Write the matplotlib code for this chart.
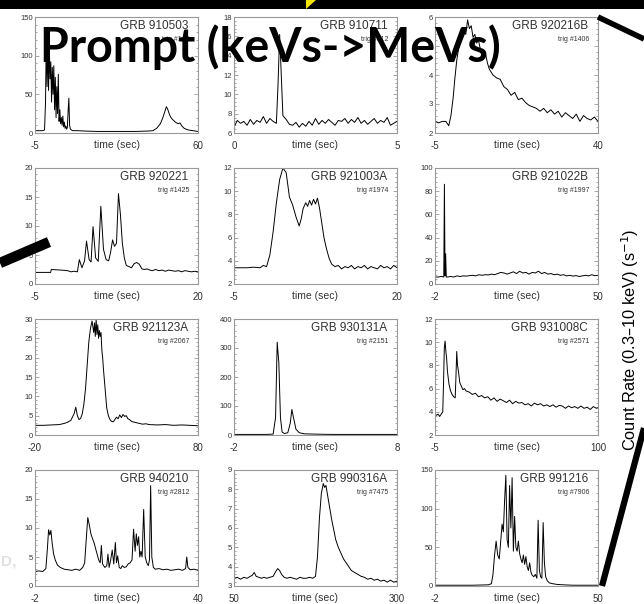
import matplotlib.pyplot as plt
from matplotlib.lines import Line2D
from matplotlib.patches import Rectangle, Polygon
from matplotlib.ticker import AutoMinorLocator

# ---- data ----
names = ["GRB 910503", "GRB 910711", "GRB 920216B",
         "GRB 920221", "GRB 921003A", "GRB 921022B",
         "GRB 921123A", "GRB 930131A", "GRB 931008C",
         "GRB 940210", "GRB 990316A", "GRB 991216"]
trigs = ["143", "512", "1406", "1425", "1974", "1997",
         "2067", "2151", "2571", "2812", "7475", "7906"]
xlims = [(-5, 60), (0, 5), (-5, 40), (-5, 20), (-5, 20), (-2, 50),
         (-20, 80), (-2, 8), (-5, 100), (-2, 40), (50, 300), (-2, 50)]
yticks = [[0, 50, 100, 150], [6, 8, 10, 12, 14, 16, 18], [2, 3, 4, 5, 6],
          [0, 5, 10, 15, 20], [2, 4, 6, 8, 10, 12], [0, 20, 40, 60, 80, 100],
          [0, 5, 10, 15, 20, 25, 30], [0, 100, 200, 300, 400], [2, 4, 6, 8, 10, 12],
          [0, 5, 10, 15, 20], [3, 4, 5, 6, 7, 8, 9], [0, 50, 100, 150]]

t1 = [-5, -2, -1.2, -0.8, -0.5, -0.2, 0.1, 0.4, 0.7, 1.0,
      1.3, 1.6, 1.9, 2.2, 2.5, 2.8, 3.1, 3.4, 3.7, 4.0,
      4.3, 4.6, 4.9, 5.2, 5.5, 5.8, 6.1, 6.4, 6.7, 7.0,
      7.3, 7.6, 7.9, 8.2, 8.5, 8.8, 9.1, 9.5, 10, 12,
      15, 20, 25, 30, 35, 40, 42, 43.5, 45, 46,
      46.8, 47.4, 48, 48.6, 49.2, 50, 51, 52, 52.8, 53.6,
      54.5, 56, 58, 60]
v1 = [3, 3, 4, 40, 126, 60, 118, 55, 112, 70,
      92, 40, 85, 50, 87, 30, 72, 20, 60, 25,
      76, 15, 30, 12, 20, 10, 22, 8, 14, 6,
      9, 5, 7, 28, 45, 10, 5, 4, 3, 3,
      2.5, 2, 2, 2, 2, 2.5, 3, 6, 12, 20,
      28, 34, 30, 24, 20, 17, 14, 12, 13, 9,
      6, 4, 3, 2]

t2 = [0.0, 0.1, 0.2, 0.3, 0.4, 0.5, 0.6, 0.7, 0.8, 0.9,
      1.0, 1.1, 1.2, 1.3, 1.35, 1.4, 1.45, 1.5, 1.6, 1.7,
      1.8, 1.9, 2.0, 2.1, 2.2, 2.3, 2.4, 2.5, 2.6, 2.7,
      2.8, 2.9, 3.0, 3.1, 3.2, 3.3, 3.4, 3.5, 3.6, 3.7,
      3.8, 3.9, 4.0, 4.1, 4.2, 4.3, 4.4, 4.5, 4.6, 4.7,
      4.8, 4.9, 5.0]
v2 = [6.6, 7.3, 7.0, 7.2, 6.8, 7.4, 6.9, 7.3, 7.1, 7.7,
      7.0, 7.5, 7.2, 7.0, 11.0, 16.2, 12.0, 7.8, 7.4, 6.9,
      6.8, 7.1, 6.6, 7.0, 6.7, 7.2, 6.8, 7.5, 6.9, 7.3,
      7.0, 7.4, 7.1, 6.8, 7.3, 7.2, 7.5, 7.0, 7.4, 7.1,
      7.6, 7.0, 7.3, 6.9, 7.2, 7.5, 7.0, 7.3, 7.1, 7.6,
      6.8, 7.0, 7.2]

t3 = [-5, -4, -3, -2, -1.2, -0.6, 0, 0.5, 1, 1.5,
      2, 2.5, 3, 3.5, 4, 4.5, 5, 5.5, 6, 6.5,
      7, 7.5, 8, 8.5, 9, 9.5, 10, 11, 12, 13,
      14, 15, 16, 17, 18, 19, 20, 21, 22, 23,
      24, 25, 26, 27, 28, 29, 30, 31, 32, 33,
      34, 35, 36, 37, 38, 39, 40]
v3 = [2.4, 2.35, 2.4, 2.4, 2.25, 2.6, 3.2, 3.9, 4.5, 4.9,
      5.1, 5.3, 5.5, 5.4, 5.9, 5.6, 5.7, 5.3, 5.4, 5.1,
      5.2, 4.9, 4.8, 4.6, 4.7, 4.4, 4.2, 4.0, 3.9, 3.85,
      3.6, 3.5, 3.3, 3.4, 3.15, 3.2, 3.05, 2.95, 2.9, 2.85,
      2.75, 2.85, 2.7, 2.8, 2.65, 2.75, 2.55, 2.7, 2.6, 2.5,
      2.65, 2.4, 2.6, 2.5, 2.45, 2.55, 2.4]

t4 = [-5, -2.6, -2.5, -1, 0, 0.5, 1, 1.5, 1.8, 2.2,
      2.6, 2.9, 3.3, 3.6, 3.9, 4.3, 4.7, 5.1, 5.5, 5.9,
      6.3, 6.6, 6.9, 7.2, 7.5, 7.8, 8.1, 8.4, 8.7, 9.0,
      9.4, 9.8, 10.2, 10.6, 11.0, 11.4, 11.8, 12.2, 12.6, 13,
      13.5, 14, 14.5, 15, 15.5, 16, 16.5, 17, 17.5, 18,
      18.5, 19, 19.5, 20]
v4 = [2.0, 2.0, 2.5, 2.4, 2.3, 2.1, 2.2, 2.1, 4.2, 2.8,
      4.0, 7.4, 4.2, 3.8, 9.9, 4.5, 3.9, 13.4, 6.0, 4.2,
      4.0, 5.5, 7.6, 6.5, 7.0, 15.6, 12.0, 7.0, 4.5, 3.2,
      3.0, 2.8, 3.5, 3.7, 3.4, 2.6, 2.5, 2.6, 2.4, 2.3,
      2.5, 2.3, 2.4, 2.2, 2.4, 2.3, 2.2, 2.3, 2.1, 2.3,
      2.2, 2.1, 2.2, 2.1]

t5 = [-5, -4, -3, -2, -1, -0.5, 0, 0.5, 1, 1.5,
      2, 2.5, 3, 3.5, 4, 4.5, 5, 5.3, 5.6, 6,
      6.3, 6.6, 6.9, 7.2, 7.5, 7.8, 8.1, 8.4, 8.8, 9.2,
      9.6, 10, 10.5, 11, 11.5, 12, 12.5, 13, 13.5, 14,
      14.5, 15, 15.5, 16, 16.5, 17, 17.5, 18, 18.5, 19,
      19.5, 20]
v5 = [3.4, 3.4, 3.4, 3.45, 3.4, 3.6, 3.5, 4.5, 6.5, 9.0,
      11.0, 12.0, 11.6, 9.5, 8.8, 7.8, 7.0, 7.6, 8.5, 9.0,
      8.7, 9.2, 8.8, 9.3, 8.9, 9.4, 8.6, 7.5, 6.0, 5.0,
      4.2, 3.7, 3.5, 3.6, 3.3, 3.5, 3.4, 3.6, 3.3, 3.5,
      3.4, 3.6, 3.3, 3.5, 3.4, 3.3, 3.6, 3.4, 3.5, 3.3,
      3.6, 3.4]

t6 = [-2, -1, 0, 0.8, 1.0, 1.2, 1.4, 1.6, 2, 3,
      4, 5, 6, 7, 8, 9, 10, 11, 12, 13,
      14, 15, 16, 17, 18, 19, 20, 21, 22, 23,
      24, 25, 26, 27, 28, 29, 30, 31, 32, 33,
      34, 35, 36, 37, 38, 39, 40, 41, 42, 43,
      44, 45, 46, 47, 48, 49, 50]
v6 = [6, 6, 6.5, 6, 86, 7, 26, 6, 6, 6.5,
      6, 7, 6.5, 7, 6.8, 7.2, 7.5, 7, 8, 7.5,
      8, 7.8, 8.5, 8, 9, 10, 9.5, 8.5, 9.5, 10.5,
      9, 11, 9.5, 10, 8.5, 10, 9.5, 11, 9, 10,
      8.5, 9, 8, 8.5, 7.5, 8, 7, 7.5, 6.8, 7.2,
      6.5, 7, 7.5, 7, 8, 7.2, 7.5]

t7 = [-20, -15, -10, -5, -2, 0, 2, 4, 5, 6,
      7, 8, 9, 10, 11, 12, 13, 14, 15, 16,
      16.5, 17, 17.5, 18, 18.5, 19, 19.5, 20, 20.5, 21,
      21.5, 22, 23, 24, 25, 26, 27, 28, 29, 30,
      31, 32, 33, 34, 35, 36, 37, 38, 39, 40,
      42, 44, 46, 48, 50, 55, 60, 65, 70, 75,
      80]
v7 = [2.5, 2.5, 2.6, 2.7, 3.0, 3.3, 3.8, 5.5, 7.2, 5.0,
      4.0, 4.3, 5.5, 8.0, 12.0, 18.0, 24.0, 27.5, 29.5, 26.5,
      29.0, 25.5, 30.0, 26.0, 28.5, 25.0, 27.0, 25.5, 26.5, 22.0,
      20.0, 17.0, 12.0, 7.0, 5.0, 4.0, 3.5, 3.4, 4.0, 4.6,
      4.2, 5.2, 4.5, 5.3, 4.8, 5.0, 4.2, 4.0, 3.6, 3.4,
      3.2, 3.0, 2.8, 2.9, 2.7, 2.6, 2.7, 2.5, 2.6, 2.5,
      2.4]

t8 = [-2, -1, 0, 0.4, 0.55, 0.65, 0.75, 0.85, 0.95, 1.1,
      1.3, 1.45, 1.55, 1.65, 1.8, 2.0, 2.3, 3, 4, 5,
      6, 7, 8]
v8 = [2, 2, 2, 3, 60, 320, 250, 60, 10, 5,
      8, 40, 88, 60, 20, 8, 4, 3, 2, 2,
      2, 2, 2]

t9 = [-5, -4, -3, -2, -1, 0, 0.5, 1, 1.5, 2,
      2.5, 3, 4, 5, 6, 7, 8, 8.5, 9, 9.5,
      10, 11, 12, 13, 14, 15, 17, 19, 21, 23,
      25, 27, 29, 31, 33, 35, 37, 39, 41, 43,
      45, 47, 49, 51, 53, 55, 57, 59, 61, 63,
      65, 67, 69, 71, 73, 75, 77, 79, 81, 83,
      85, 87, 89, 91, 93, 95, 97, 99, 100]
v9 = [3.8, 3.7, 3.8, 3.6, 3.8, 4.0, 6.5, 9.5, 10.1, 9.2,
      8.6, 7.5, 6.4, 5.8, 5.5, 5.3, 5.2, 7.0, 9.2, 8.0,
      7.6, 6.5, 6.2, 5.9, 6.0, 5.8, 5.7, 5.5, 5.6, 5.3,
      5.4, 5.2, 5.3, 5.0, 5.2, 4.9, 5.1, 4.95, 4.8, 5.0,
      4.7, 4.9, 4.75, 4.8, 4.6, 4.7, 4.5, 4.75, 4.6, 4.7,
      4.5, 4.6, 4.45, 4.6, 4.4, 4.55, 4.5, 4.3, 4.5, 4.35,
      4.45, 4.3, 4.5, 4.3, 4.4, 4.2, 4.45, 4.3, 4.35]

t10 = [-2, -1, 0, 0.8, 1.2, 1.5, 1.8, 2.1, 2.4, 2.8,
       3.2, 3.8, 4.5, 5.5, 6.5, 7.5, 8.5, 9.5, 10.3, 10.8,
       11.2, 11.6, 12.0, 12.4, 12.8, 13.2, 13.6, 14.0, 14.4, 14.8,
       15.1, 15.4, 16.0, 16.5, 16.8, 17.1, 17.5, 17.9, 18.3, 18.7,
       19.0, 19.3, 19.7, 20.1, 20.5, 21.0, 21.5, 22.0, 22.5, 23.0,
       23.4, 23.8, 24.1, 24.4, 24.7, 25.0, 25.3, 25.6, 26.0, 26.4,
       26.8, 27.2, 27.5, 27.8, 28.1, 28.5, 29.0, 30, 31, 32,
       33, 34, 35, 36, 36.8, 37.1, 37.4, 38, 39, 40]
v10 = [2.5, 2.6, 2.5, 3.0, 6.5, 9.7, 8.8, 9.6, 7.5, 5.5,
       4.5, 3.6, 3.2, 2.9, 2.8, 2.7, 2.9, 2.7, 3.2, 4.0,
       8.0, 11.8, 10.5, 9.0, 8.2, 7.5, 6.5, 5.5, 4.5, 4.0,
       7.0, 3.8, 3.2, 3.5, 5.5, 3.2, 4.5, 6.2, 3.8, 7.5,
       4.0, 5.2, 3.2, 3.0, 3.5, 3.2, 3.3, 3.8, 4.0, 4.5,
       9.8, 6.0, 9.0, 7.0, 8.5, 5.0, 6.0, 5.0, 13.2, 5.0,
       4.0, 3.5, 4.5, 17.3, 5.0, 3.2, 2.9, 3.0, 2.8, 2.9,
       2.7, 2.8, 2.9, 2.7, 3.0, 5.0, 3.2, 2.8, 2.9, 2.7]

t11 = [50, 55, 60, 65, 70, 75, 78, 81, 84, 88,
       92, 96, 100, 105, 110, 114, 117, 120, 123, 127,
       131, 136, 141, 146, 151, 156, 161, 166, 171, 175,
       178, 181, 184, 187, 189, 191, 194, 197, 200, 203,
       206, 210, 214, 218, 222, 226, 230, 235, 240, 245,
       250, 255, 260, 265, 270, 275, 280, 285, 290, 295,
       300]
v11 = [3.4, 3.45, 3.35, 3.45, 3.4, 3.5, 3.55, 3.7, 3.5, 3.45,
       3.4, 3.45, 3.4, 3.45, 3.5, 3.75, 3.9, 3.8, 3.6, 3.45,
       3.4, 3.45, 3.4, 3.35, 3.45, 3.4, 3.4, 3.45, 3.4, 3.5,
       4.5, 6.5, 7.8, 8.3, 8.1, 8.2, 7.6, 7.0, 6.4, 5.9,
       5.4, 5.0, 4.7, 4.4, 4.2, 4.0, 3.8, 3.7, 3.6, 3.5,
       3.45, 3.35, 3.4, 3.3, 3.35, 3.25, 3.3, 3.2, 3.3, 3.2,
       3.25]

t12 = [-2, 0, 5, 10, 15, 16, 16.5, 17.0, 17.5, 18.0,
       18.5, 19.0, 19.4, 19.8, 20.2, 20.6, 21.0, 21.4, 21.8, 22.2,
       22.6, 23.0, 23.4, 23.8, 24.2, 24.6, 25.0, 25.4, 25.8, 26.2,
       26.6, 27.0, 27.4, 27.8, 28.2, 28.6, 29.0, 29.5, 30.0, 30.5,
       30.9, 31.3, 31.7, 32.1, 32.5, 32.9, 33.3, 33.8, 34.5, 35.5,
       37, 39, 42, 45, 48, 50]
v12 = [1, 1, 1, 1, 1.5, 3, 15, 40, 58, 40,
       35, 60, 80, 70, 110, 143, 60, 50, 130, 75,
       140, 45, 90, 50, 45, 58, 42, 35, 30, 40,
       28, 38, 25, 20, 30, 18, 14, 12, 15, 10,
       85, 20, 12, 10, 82, 30, 12, 7, 4, 3,
       2, 1.5, 1, 1, 1, 1]

times = [t1, t2, t3, t4, t5, t6, t7, t8, t9, t10, t11, t12]
rates = [v1, v2, v3, v4, v5, v6, v7, v8, v9, v10, v11, v12]

# ---- layout (pixels of a 644x604 canvas) ----
W, H = 644, 604
col_left = [35, 234, 435]
col_w = 163
row_top = [17, 168, 319, 470]
row_h = 116


def fx(px):
    return px / W


def fy(py):
    return 1 - py / H


fig = plt.figure(figsize=(W / 100, H / 100), dpi=100)
fig.patch.set_facecolor("white")
plt.rcParams["font.family"] = ["Liberation Sans", "DejaVu Sans"]

for i in range(12):
    r, c = divmod(i, 3)
    ax = fig.add_axes([fx(col_left[c]), fy(row_top[r] + row_h), col_w / W, row_h / H])
    ax.plot(times[i], rates[i], color="black", lw=0.7)
    x0, x1 = xlims[i]
    ax.set_xlim(x0, x1)
    ax.set_ylim(yticks[i][0], yticks[i][-1])
    ax.set_yticks(yticks[i])
    ax.yaxis.set_minor_locator(AutoMinorLocator(5))
    ax.tick_params(axis="y", which="both", direction="in", left=True, right=True,
                   labelsize=5.5, labelcolor="#333333", color="#999999", width=0.6)
    ax.tick_params(axis="y", which="major", length=3, pad=1.5)
    ax.tick_params(axis="y", which="minor", length=1.5)
    ax.set_xticks([x0, x1])
    ax.set_xticklabels([str(x0), str(x1)])
    ax.tick_params(axis="x", length=0, labelsize=7, labelcolor="#333333", pad=6)
    ax.text(0.5, -0.06, "time (sec)", transform=ax.transAxes, ha="center", va="top",
            fontsize=7.5, color="#333333")
    for sp in ax.spines.values():
        sp.set_color("#999999")
        sp.set_linewidth(0.8)
    ax.text(0.94, 0.975, names[i], transform=ax.transAxes, ha="right", va="top",
            fontsize=8.5, color="#333333")
    ax.text(0.945, 0.84, "trig #" + trigs[i], transform=ax.transAxes, ha="right", va="top",
            fontsize=5, color="#333333")

# slide decorations on top
fig.patches.append(Rectangle((0, fy(9)), 1, 9 / H, transform=fig.transFigure,
                             facecolor="black", edgecolor="none", zorder=5))
fig.patches.append(Polygon([(fx(306), fy(0)), (fx(316), fy(0)), (fx(306), fy(9))],
                           closed=True, transform=fig.transFigure,
                           facecolor="#f5e400", edgecolor="none", zorder=6))

for (xa, ya), (xb, yb), w in [((0, 263), (49, 242), 7.5),
                              ((598, 17), (644, 39), 4.0),
                              ((602, 586), (644, 428), 4.5)]:
    fig.lines.append(Line2D([fx(xa), fx(xb)], [fy(ya), fy(yb)], transform=fig.transFigure,
                            color="black", lw=w, solid_capstyle="butt", zorder=6))

fig.text(fx(40), fy(62), "Prompt (keVs->MeVs)", ha="left", va="baseline",
         fontsize=33.5, fontweight="bold", color="black", zorder=7,
         family=["Lato", "DejaVu Sans"])

fig.text(fx(630), fy(340), "Count Rate (0.3\u201310 keV) (s$^{-1}$)", rotation=90,
         ha="center", va="center", fontsize=11.8, color="black", zorder=7,
         family=["Liberation Sans", "DejaVu Sans"])

fig.text(fx(1), fy(566), "D,", ha="left", va="baseline", fontsize=11,
         fontweight="bold", color="#cccccc", alpha=0.6, zorder=1)

fig.savefig("out.png", dpi=100)
